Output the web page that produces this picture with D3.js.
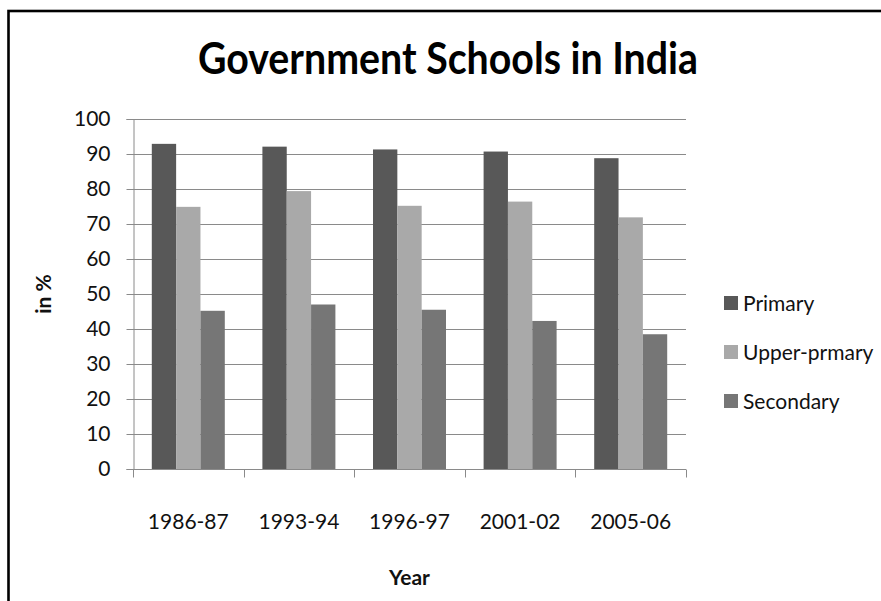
<!DOCTYPE html>
<html>
<head>
<meta charset="utf-8">
<script src="https://cdn.jsdelivr.net/npm/d3@7"></script>
<style>
  body { margin: 0; background: #fff; }
  svg { display: block; font-family: Lato, sans-serif; }
</style>
</head>
<body>
<div id="chart"></div>
<script>
// Data
const years = ["1986-87", "1993-94", "1996-97", "2001-02", "2005-06"];
const seriesNames = ["Primary", "Upper-prmary", "Secondary"];
const primary = [92.9, 92.1, 91.3, 90.7, 88.8];
const upperPrimary = [74.9, 79.4, 75.2, 76.4, 71.9];
const secondary = [45.2, 47.0, 45.5, 42.3, 38.5];
const yTicks = [0, 10, 20, 30, 40, 50, 60, 70, 80, 90, 100];

const seriesValues = [primary, upperPrimary, secondary];
const rows = years.map((y, i) => ({ year: y, values: seriesValues.map(s => s[i]) }));

//SVG setup
const width = 881;
const height = 601;
const margin = { top: 119, right: 195, bottom: 132, left: 133 };

const svg = d3.select("#chart")
    .append("svg")
    .attr("width", width)
    .attr("height", height)
    .attr("viewBox", `0 0 ${width} ${height}`);

svg.append("rect")
    .attr("width", width)
    .attr("height", height)
    .attr("fill", "#fff");

// Frame (only top and left edges fall inside the picture)
svg.append("rect")
    .attr("x", 8.5)
    .attr("y", 11)
    .attr("width", width + 20)
    .attr("height", height + 20)
    .attr("fill", "none")
    .attr("stroke", "#000")
    .attr("stroke-width", 2.6);

const color = d3.scaleOrdinal()
    .domain(seriesNames)
    .range(["#585858", "#a9a9a9", "#767676"]);

const x0 = d3.scaleBand()
    .domain(years)
    .range([margin.left, width - margin.right])
    .paddingInner(0.34)
    .paddingOuter(0.17);

const x1 = d3.scaleBand()
    .domain(seriesNames)
    .range([0, x0.bandwidth()]);

const y = d3.scaleLinear()
    .domain([0, 100])
    .range([height - margin.bottom, margin.top]);

// Gridlines
svg.append("g")
    .selectAll("line")
    .data(yTicks.filter(d => d > 0))
    .join("line")
    .attr("x1", margin.left)
    .attr("x2", width - margin.right)
    .attr("y1", d => Math.round(y(d)) + 0.5)
    .attr("y2", d => Math.round(y(d)) + 0.5)
    .attr("stroke", "#8a8a8a")
    .attr("stroke-width", 1);

// Bars
svg.append("g")
    .selectAll("g")
    .data(rows)
    .join("g")
    .attr("transform", d => `translate(${x0(d.year)},0)`)
    .selectAll("rect")
    .data(d => d.values.map((v, i) => ({ key: seriesNames[i], value: v })))
    .join("rect")
    .attr("x", d => x1(d.key))
    .attr("y", d => y(d.value))
    .attr("width", x1.bandwidth())
    .attr("height", d => y(0) - y(d.value))
    .attr("fill", d => color(d.key));

// Y axis
const yAxis = svg.append("g")
    .attr("transform", `translate(${margin.left + 0.5},0)`)
    .call(d3.axisLeft(y).tickValues(yTicks).tickSize(7).tickPadding(16));
yAxis.selectAll("path, line").attr("stroke", "#8a8a8a");
yAxis.selectAll("text")
    .attr("font-family", "Lato, sans-serif")
    .attr("font-size", 21)
    .attr("fill", "#111");

// X axis with ticks between categories
const xAxisG = svg.append("g")
    .attr("transform", `translate(0,${Math.round(y(0)) + 0.5})`);
xAxisG.append("line")
    .attr("x1", margin.left)
    .attr("x2", width - margin.right)
    .attr("stroke", "#8a8a8a");
const step = x0.step();
const boundaries = years.map(d => x0(d) - x0.paddingOuter() * step).concat([width - margin.right]);
xAxisG.selectAll(".tick-mark")
    .data(boundaries)
    .join("line")
    .attr("class", "tick-mark")
    .attr("x1", d => Math.round(d) + 0.5)
    .attr("x2", d => Math.round(d) + 0.5)
    .attr("y1", 0)
    .attr("y2", 8)
    .attr("stroke", "#8a8a8a");
xAxisG.selectAll(".tick-label")
    .data(years)
    .join("text")
    .attr("class", "tick-label")
    .attr("x", d => x0(d) + x0.bandwidth() / 2)
    .attr("y", 59)
    .attr("text-anchor", "middle")
    .attr("font-size", 21)
    .attr("fill", "#111")
    .text(d => d);

// Title
svg.append("text")
    .attr("x", 448)
    .attr("y", 74)
    .attr("text-anchor", "middle")
    .attr("font-size", 43)
    .attr("font-weight", "bold")
    .attr("textLength", 500)
    .attr("lengthAdjust", "spacingAndGlyphs")
    .attr("fill", "#000")
    .text("Government Schools in India");

// Axis titles
svg.append("text")
    .attr("x", (margin.left + width - margin.right) / 2)
    .attr("y", 585)
    .attr("text-anchor", "middle")
    .attr("font-size", 21)
    .attr("font-weight", "bold")
    .attr("fill", "#111")
    .text("Year");

svg.append("text")
    .attr("transform", `translate(51,${(y(0) + y(100)) / 2}) rotate(-90)`)
    .attr("text-anchor", "middle")
    .attr("font-size", 21)
    .attr("font-weight", "bold")
    .attr("fill", "#111")
    .text("in %");

// Legend
const legend = svg.append("g")
    .attr("transform", "translate(724,303)");

const legendItems = legend.selectAll("g")
    .data(seriesNames)
    .join("g")
    .attr("transform", (d, i) => `translate(0,${i * 49})`);

legendItems.append("rect")
    .attr("x", 0)
    .attr("y", -7)
    .attr("width", 14)
    .attr("height", 14)
    .attr("fill", d => color(d));

legendItems.append("text")
    .attr("x", 19)
    .attr("y", 7.5)
    .attr("font-size", 21)
    .attr("fill", "#111")
    .text(d => d);
</script>
</body>
</html>
